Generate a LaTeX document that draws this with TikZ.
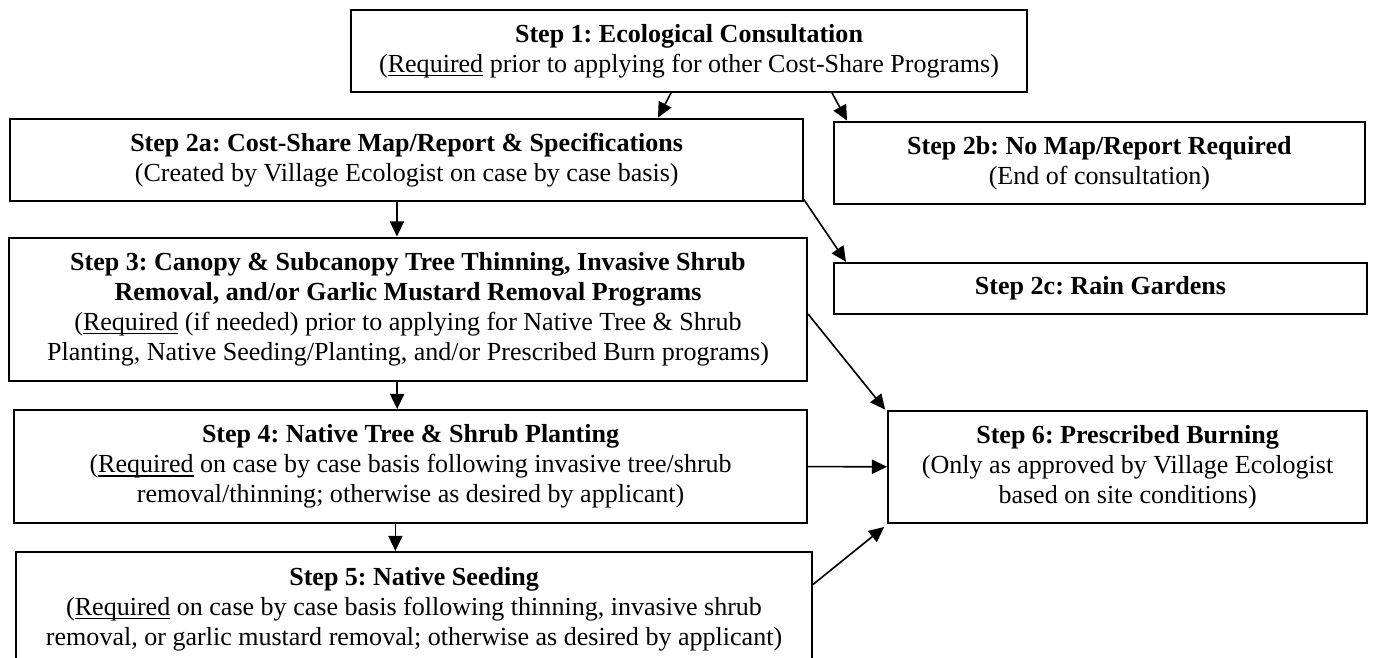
\documentclass[tikz,border=0pt]{standalone}
\usepackage{fontspec}
\setmainfont{Liberation Serif}
\usetikzlibrary{arrows.meta}
\newcommand{\ureq}{\setbox0\hbox{Required}\rlap{\rule[-1.7pt]{\wd0}{0.6pt}}\box0}
\frenchspacing

\begin{document}
\begin{tikzpicture}[x=1pt,y=-1pt,
        stepbox/.style={draw, line width=0.9pt, align=center, inner sep=0pt,
            font=\fontsize{12}{13.8}\selectfont},
        arr/.style={-{Triangle[length=7pt,width=6.5pt]}, line width=0.75pt}]
        \useasboundingbox (0,0) rectangle (634.06,302.75);
        \clip (0,0) rectangle (634.06,302.75);

        \node[stepbox, minimum width=311.5pt, minimum height=37.6pt](s1)at(317.5,23.6){\textbf{Step 1: Ecological Consultation}\\(\ureq{} prior to applying for other Cost-Share Programs)};
        \node[stepbox, minimum width=365.2pt, minimum height=37.9pt](s2a)at(187.4,73.6){\textbf{Step 2a: Cost-Share Map/Report \& Specifications}\\(Created by Village Ecologist on case by case basis)};
        \node[stepbox, minimum width=244.7pt, minimum height=38pt](s2b)at(506.6,75){\textbf{Step 2b: No Map/Report Required}\\(End of consultation)};
        \node[stepbox, minimum width=367.8pt, minimum height=66.1pt](s3)at(188,142.5){\textbf{Step 3: Canopy \& Subcanopy Tree Thinning, Invasive Shrub}\\\textbf{Removal, and/or Garlic Mustard Removal Programs}\\(\ureq{} (if needed) prior to applying for Native Tree \& Shrub\\Planting, Native Seeding/Planting, and/or Prescribed Burn programs)};
        \node[stepbox, minimum width=245.6pt, minimum height=23.6pt](s2c)at(507.1,132.9){\textbf{Step 2c: Rain Gardens}};
        \node[stepbox, minimum width=365.4pt, minimum height=52.1pt](s4)at(189.2,215){\textbf{Step 4: Native Tree \& Shrub Planting}\\(\ureq{} on case by case basis following invasive tree/shrub\\removal/thinning; otherwise as desired by applicant)};
        \node[stepbox, minimum width=220.7pt, minimum height=51.8pt](s6)at(519.6,215.1){\textbf{Step 6: Prescribed Burning}\\(Only as approved by Village Ecologist\\based on site conditions)};
        \node[stepbox, minimum width=366.8pt, minimum height=52.5pt](s5)at(190.8,280.6){\textbf{Step 5: Native Seeding}\\(\ureq{} on case by case basis following thinning, invasive shrub\\removal, or garlic mustard removal; otherwise as desired by applicant)};

        \draw[arr]([xshift=-8.3pt]s1.south)--([xshift=115.8pt]s2a.north);
        \draw[arr]([xshift=65.9pt]s1.south)--([xshift=-116.3pt]s2b.north);
        \draw[arr]([xshift=-4.5pt]s2a.south)--([xshift=-4.5pt]s2a.south |- s3.north);
        \draw[arr]([yshift=1pt]s2a.south east)--([xshift=6pt]s2c.north west);
        \draw[arr]([xshift=-5pt]s3.south)--([xshift=-5pt]s3.south |- s4.north);
        \draw[arr]([yshift=-2.2pt]s3.east)--([xshift=-0.9pt]s6.north west);
        \draw[arr](s4.east)--(s6.west);
        \draw[arr]([xshift=-7pt]s4.south)--([xshift=-7pt]s4.south |- s5.north);
        \draw[arr]([yshift=11.3pt]s5.east)--([xshift=-1.4pt,yshift=-1.4pt]s6.south west);
    \end{tikzpicture}
\end{document}
